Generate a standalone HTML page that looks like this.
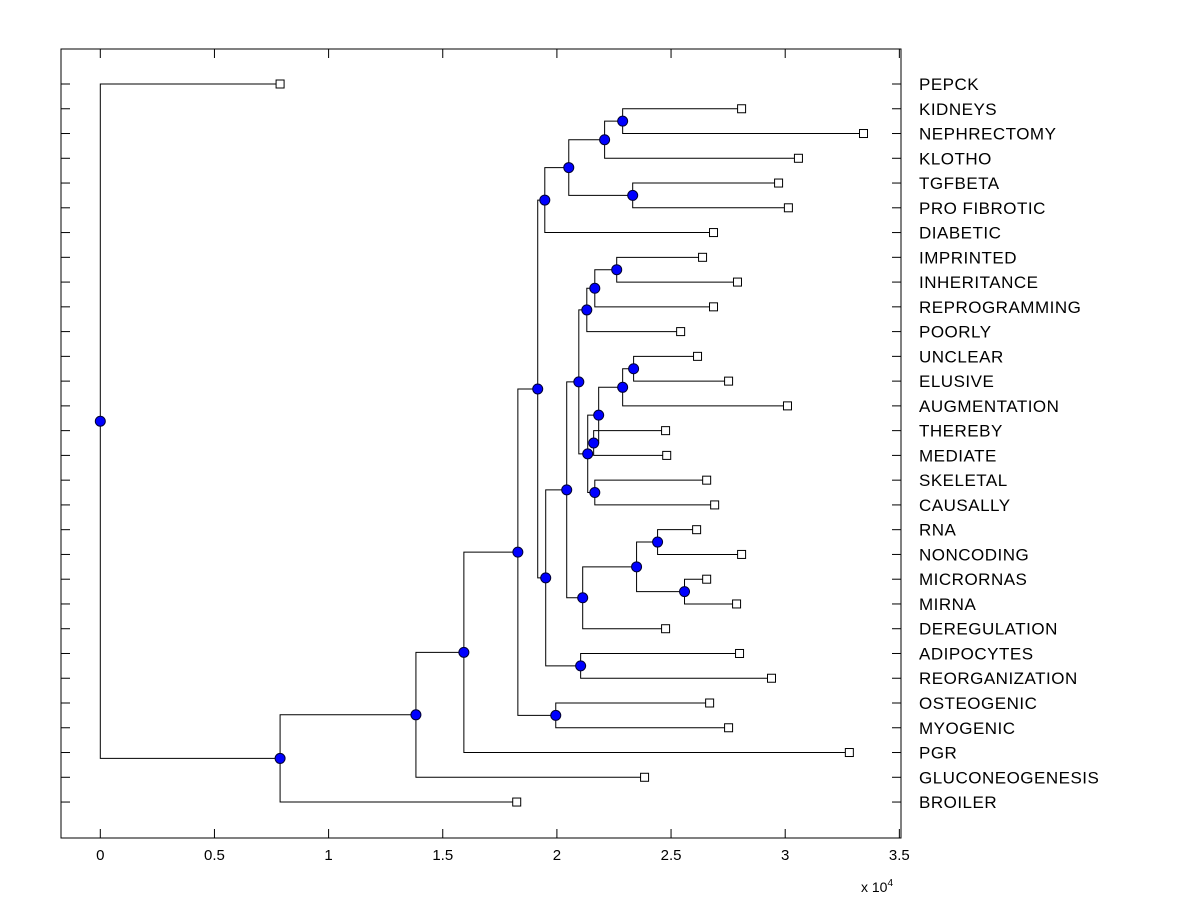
<!DOCTYPE html>
<html><head><meta charset="utf-8"><style>
html,body{margin:0;padding:0;background:#fff;}
svg{display:block;font-family:"Liberation Sans",Arial,sans-serif;}
</style></head><body>
<svg id="chart" width="1200" height="900" viewBox="0 0 1200 900" xmlns="http://www.w3.org/2000/svg">
<rect x="0" y="0" width="1200" height="900" fill="#fff"/>
<g id="g"></g>
</svg>
<script>
const leafNames=["PEPCK","KIDNEYS","NEPHRECTOMY","KLOTHO","TGFBETA","PRO FIBROTIC","DIABETIC","IMPRINTED","INHERITANCE","REPROGRAMMING","POORLY","UNCLEAR","ELUSIVE","AUGMENTATION","THEREBY","MEDIATE","SKELETAL","CAUSALLY","RNA","NONCODING","MICRORNAS","MIRNA","DEREGULATION","ADIPOCYTES","REORGANIZATION","OSTEOGENIC","MYOGENIC","PGR","GLUCONEOGENESIS","BROILER"];
const leafValues=[0.7875,2.809,3.343,3.058,2.971,3.014,2.686,2.638,2.791,2.686,2.542,2.616,2.752,3.010,2.476,2.481,2.656,2.691,2.612,2.809,2.656,2.787,2.476,2.800,2.940,2.669,2.752,3.281,2.384,1.824];
const linkLeft=[1,30,4,31,33,7,35,36,11,38,14,39,16,41,37,18,20,45,47,44,23,49,34,25,52,54,55,56,0];
const linkRight=[2,3,5,32,6,8,9,10,12,13,15,40,17,42,43,19,21,46,22,48,24,50,51,26,53,27,28,29,57];
const linkHeight=[2.288,2.209,2.332,2.052,1.947,2.262,2.166,2.131,2.336,2.288,2.161,2.183,2.166,2.135,2.096,2.441,2.559,2.349,2.113,2.043,2.104,1.951,1.916,1.995,1.829,1.5925,1.3825,0.7875,0];
const xTicks=[0,0.5,1,1.5,2,2.5,3,3.5];
const xTickLabels=["0","0.5","1","1.5","2","2.5","3","3.5"];

const NS="http://www.w3.org/2000/svg";
const g=document.getElementById('g');
const L=61,R=901,T=49,B=838;
const xs=v=>100.3+v*228.3;
const ys=i=>84+i*24.76;
function el(tag,attrs,parent){const e=document.createElementNS(NS,tag);for(const k in attrs)e.setAttribute(k,attrs[k]);(parent||g).appendChild(e);return e;}

const n=leafNames.length;
const nx=[],ny=[];
for(let i=0;i<n;i++){nx[i]=xs(leafValues[i]);ny[i]=ys(i);}
for(let k=0;k<linkLeft.length;k++){const id=n+k;nx[id]=xs(linkHeight[k]);ny[id]=(ny[linkLeft[k]]+ny[linkRight[k]])/2;}

const box=el('rect',{x:L,y:T,width:R-L,height:B-T,fill:'none',stroke:'#000','stroke-width':1});


xTicks.forEach((v,i)=>{const x=xs(v);
 const t=el('line',{x1:x,y1:B,x2:x,y2:B-9,stroke:'#000'});
 
 
 const t2=el('line',{x1:x,y1:T,x2:x,y2:T+9,stroke:'#000'});
 
 
 const tx=el('text',{x:x,y:860,'font-size':15,'text-anchor':'middle'});tx.textContent=xTickLabels[i];
 
 
});
const ex=el('text',{x:861,y:892,'font-size':14});ex.innerHTML='x 10<tspan dy="-6" font-size="10">4</tspan>';


for(let i=0;i<n;i++){const y=ys(i);
 const a=el('line',{x1:L,y1:y,x2:L+9,y2:y,stroke:'#000'});
 
 
 const b=el('line',{x1:R,y1:y,x2:R-9,y2:y,stroke:'#000'});
 
 
 const t=el('text',{x:919,y:y+6,'font-size':17,'letter-spacing':0.5});t.textContent=leafNames[i];
 
 
}
for(let k=0;k<linkLeft.length;k++){const id=n+k,a=linkLeft[k],b=linkRight[k];
 const p=el('path',{d:`M${nx[a]},${ny[a]}H${nx[id]}V${ny[b]}H${nx[b]}`,fill:'none',stroke:'#000','stroke-width':1});
 
 
}
for(let i=0;i<n;i++){
 const r=el('rect',{x:nx[i]-4,y:ny[i]-4,width:8,height:8,fill:'#fff',stroke:'#000'});
 
 
}
for(let k=0;k<linkLeft.length;k++){const id=n+k;
 const c=el('circle',{cx:nx[id],cy:ny[id],r:5,fill:'#0000ff',stroke:'#000033','stroke-width':1});
 
 
}
</script>
</body></html>
